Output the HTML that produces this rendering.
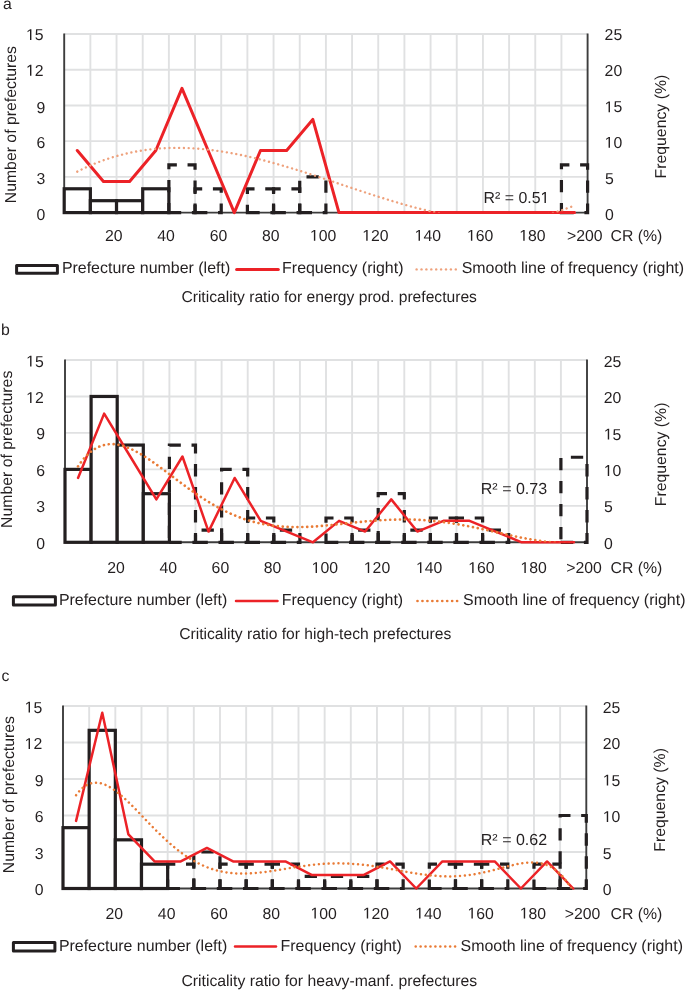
<!DOCTYPE html>
<html><head><meta charset="utf-8"><title>Criticality ratio charts</title>
<style>html,body{margin:0;padding:0;background:#fff}body{width:685px;height:990px;position:relative;overflow:hidden;font-family:'Liberation Sans',sans-serif;text-rendering:geometricPrecision}</style>
</head><body>
<svg width="685" height="990" viewBox="0 0 685 990" style="position:absolute;left:0;top:0;will-change:transform"><defs><clipPath id="clipa"><rect x="64.2" y="32.0" width="523.4" height="180.6"/></clipPath><clipPath id="clipb"><rect x="65.0" y="358.0" width="522.0" height="184.29999999999995"/></clipPath><clipPath id="clipc"><rect x="63.0" y="704.0" width="523.3" height="184.5"/></clipPath></defs><line x1="64.2" y1="176.88" x2="587.6" y2="176.88" stroke="#e0e1e2" stroke-width="1.9"/><line x1="64.2" y1="141.16" x2="587.6" y2="141.16" stroke="#e0e1e2" stroke-width="1.9"/><line x1="64.2" y1="105.44" x2="587.6" y2="105.44" stroke="#e0e1e2" stroke-width="1.9"/><line x1="64.2" y1="69.72" x2="587.6" y2="69.72" stroke="#e0e1e2" stroke-width="1.9"/><line x1="64.2" y1="34" x2="587.6" y2="34" stroke="#e0e1e2" stroke-width="1.9"/><line x1="90.37" y1="34" x2="90.37" y2="212.6" stroke="#e0e1e2" stroke-width="1.9"/><line x1="116.54" y1="34" x2="116.54" y2="212.6" stroke="#e0e1e2" stroke-width="1.9"/><line x1="142.71" y1="34" x2="142.71" y2="212.6" stroke="#e0e1e2" stroke-width="1.9"/><line x1="168.88" y1="34" x2="168.88" y2="212.6" stroke="#e0e1e2" stroke-width="1.9"/><line x1="195.05" y1="34" x2="195.05" y2="212.6" stroke="#e0e1e2" stroke-width="1.9"/><line x1="221.22" y1="34" x2="221.22" y2="212.6" stroke="#e0e1e2" stroke-width="1.9"/><line x1="247.39" y1="34" x2="247.39" y2="212.6" stroke="#e0e1e2" stroke-width="1.9"/><line x1="273.56" y1="34" x2="273.56" y2="212.6" stroke="#e0e1e2" stroke-width="1.9"/><line x1="299.73" y1="34" x2="299.73" y2="212.6" stroke="#e0e1e2" stroke-width="1.9"/><line x1="325.9" y1="34" x2="325.9" y2="212.6" stroke="#e0e1e2" stroke-width="1.9"/><line x1="352.07" y1="34" x2="352.07" y2="212.6" stroke="#e0e1e2" stroke-width="1.9"/><line x1="378.24" y1="34" x2="378.24" y2="212.6" stroke="#e0e1e2" stroke-width="1.9"/><line x1="404.41" y1="34" x2="404.41" y2="212.6" stroke="#e0e1e2" stroke-width="1.9"/><line x1="430.58" y1="34" x2="430.58" y2="212.6" stroke="#e0e1e2" stroke-width="1.9"/><line x1="456.75" y1="34" x2="456.75" y2="212.6" stroke="#e0e1e2" stroke-width="1.9"/><line x1="482.92" y1="34" x2="482.92" y2="212.6" stroke="#e0e1e2" stroke-width="1.9"/><line x1="509.09" y1="34" x2="509.09" y2="212.6" stroke="#e0e1e2" stroke-width="1.9"/><line x1="535.26" y1="34" x2="535.26" y2="212.6" stroke="#e0e1e2" stroke-width="1.9"/><line x1="561.43" y1="34" x2="561.43" y2="212.6" stroke="#e0e1e2" stroke-width="1.9"/><line x1="64.2" y1="33.5" x2="64.2" y2="212.6" stroke="#3d3d3d" stroke-width="1.9"/><line x1="587.6" y1="33.5" x2="587.6" y2="212.6" stroke="#3d3d3d" stroke-width="1.9"/><line x1="64.2" y1="212.6" x2="587.6" y2="212.6" stroke="#3d3d3d" stroke-width="1.9"/><rect x="64.2" y="188.79" width="26.17" height="23.81" fill="#fff" stroke="#231f20" stroke-width="3.2"/><rect x="90.37" y="200.69" width="26.17" height="11.91" fill="#fff" stroke="#231f20" stroke-width="3.2"/><rect x="116.54" y="200.69" width="26.17" height="11.91" fill="#fff" stroke="#231f20" stroke-width="3.2"/><rect x="142.71" y="188.79" width="26.17" height="23.81" fill="#fff" stroke="#231f20" stroke-width="3.2"/><path d="M168.88 212.6H195.05V164.97H168.88Z" fill="none" stroke="#231f20" stroke-width="3.2" stroke-dasharray="12.3 10.7" stroke-dashoffset="0"/><path d="M195.05 212.6H221.22V188.79H195.05Z" fill="none" stroke="#231f20" stroke-width="3.2" stroke-dasharray="12.3 10.7" stroke-dashoffset="0"/><path d="M247.39 212.6H273.56V188.79H247.39Z" fill="none" stroke="#231f20" stroke-width="3.2" stroke-dasharray="12.3 10.7" stroke-dashoffset="0"/><path d="M273.56 212.6H299.73V188.79H273.56Z" fill="none" stroke="#231f20" stroke-width="3.2" stroke-dasharray="12.3 10.7" stroke-dashoffset="0"/><path d="M299.73 212.6H325.9V176.88H299.73Z" fill="none" stroke="#231f20" stroke-width="3.2" stroke-dasharray="12.3 10.7" stroke-dashoffset="0"/><path d="M561.43 212.6H587.6V164.97H561.43Z" fill="none" stroke="#231f20" stroke-width="3.2" stroke-dasharray="12.3 10.7" stroke-dashoffset="0"/><polyline points="77.28,150.48 103.45,181.54 129.62,181.54 155.8,150.48 181.96,88.36 208.13,150.48 234.31,212.6 260.47,150.48 286.64,150.48 312.81,119.42 338.98,212.6 365.15,212.6 391.32,212.6 417.49,212.6 443.66,212.6 469.83,212.6 496,212.6 522.17,212.6 548.35,212.6 574.51,212.6" fill="none" stroke="#ec2227" stroke-width="3.0" stroke-linejoin="round" stroke-linecap="round"/><g clip-path="url(#clipa)"><polyline points="77.28,171.63 78.53,171 79.78,170.37 81.02,169.76 82.27,169.15 83.52,168.56 84.76,167.97 86.01,167.4 87.25,166.83 88.5,166.27 89.75,165.72 90.99,165.19 92.24,164.66 93.49,164.13 94.73,163.62 95.98,163.12 97.22,162.63 98.47,162.14 99.72,161.67 100.96,161.2 102.21,160.74 103.45,160.29 104.7,159.85 105.95,159.42 107.19,159 108.44,158.58 109.69,158.18 110.93,157.78 112.18,157.39 113.42,157.01 114.67,156.64 115.92,156.28 117.16,155.92 118.41,155.57 119.66,155.24 120.9,154.91 122.15,154.58 123.39,154.27 124.64,153.96 125.89,153.67 127.13,153.38 128.38,153.1 129.62,152.82 130.87,152.56 132.12,152.3 133.36,152.05 134.61,151.8 135.86,151.57 137.1,151.34 138.35,151.12 139.59,150.91 140.84,150.71 142.09,150.51 143.33,150.32 144.58,150.14 145.83,149.96 147.07,149.8 148.32,149.64 149.56,149.48 150.81,149.34 152.06,149.2 153.3,149.07 154.55,148.94 155.8,148.83 157.04,148.72 158.29,148.61 159.53,148.52 160.78,148.43 162.03,148.35 163.27,148.27 164.52,148.2 165.76,148.14 167.01,148.08 168.26,148.03 169.5,147.99 170.75,147.95 172,147.92 173.24,147.9 174.49,147.88 175.73,147.87 176.98,147.87 178.23,147.87 179.47,147.88 180.72,147.89 181.96,147.91 183.21,147.94 184.46,147.97 185.7,148.01 186.95,148.06 188.2,148.11 189.44,148.16 190.69,148.22 191.93,148.29 193.18,148.36 194.43,148.44 195.67,148.53 196.92,148.62 198.17,148.71 199.41,148.82 200.66,148.92 201.9,149.03 203.15,149.15 204.4,149.27 205.64,149.4 206.89,149.54 208.13,149.67 209.38,149.82 210.63,149.97 211.87,150.12 213.12,150.28 214.37,150.44 215.61,150.61 216.86,150.78 218.1,150.96 219.35,151.14 220.6,151.33 221.84,151.52 223.09,151.72 224.34,151.92 225.58,152.13 226.83,152.34 228.07,152.55 229.32,152.77 230.57,152.99 231.81,153.22 233.06,153.45 234.31,153.69 235.55,153.93 236.8,154.18 238.04,154.42 239.29,154.68 240.54,154.93 241.78,155.19 243.03,155.46 244.27,155.73 245.52,156 246.77,156.27 248.01,156.55 249.26,156.84 250.51,157.12 251.75,157.41 253,157.71 254.24,158 255.49,158.3 256.74,158.61 257.98,158.91 259.23,159.23 260.47,159.54 261.72,159.86 262.97,160.18 264.21,160.5 265.46,160.82 266.71,161.15 267.95,161.49 269.2,161.82 270.44,162.16 271.69,162.5 272.94,162.84 274.18,163.19 275.43,163.54 276.68,163.89 277.92,164.24 279.17,164.6 280.41,164.96 281.66,165.32 282.91,165.68 284.15,166.05 285.4,166.41 286.64,166.79 287.89,167.16 289.14,167.53 290.38,167.91 291.63,168.29 292.88,168.67 294.12,169.05 295.37,169.44 296.61,169.82 297.86,170.21 299.11,170.6 300.35,170.99 301.6,171.38 302.85,171.78 304.09,172.17 305.34,172.57 306.58,172.97 307.83,173.37 309.08,173.77 310.32,174.18 311.57,174.58 312.81,174.99 314.06,175.39 315.31,175.8 316.55,176.21 317.8,176.62 319.05,177.03 320.29,177.44 321.54,177.85 322.78,178.27 324.03,178.68 325.28,179.1 326.52,179.51 327.77,179.93 329.02,180.34 330.26,180.76 331.51,181.18 332.75,181.6 334,182.01 335.25,182.43 336.49,182.85 337.74,183.27 338.98,183.69 340.23,184.11 341.48,184.53 342.72,184.95 343.97,185.37 345.22,185.78 346.46,186.2 347.71,186.62 348.95,187.04 350.2,187.46 351.45,187.88 352.69,188.29 353.94,188.71 355.19,189.13 356.43,189.54 357.68,189.96 358.92,190.37 360.17,190.79 361.42,191.2 362.66,191.61 363.91,192.02 365.15,192.43 366.4,192.84 367.65,193.25 368.89,193.66 370.14,194.06 371.39,194.47 372.63,194.87 373.88,195.28 375.12,195.68 376.37,196.08 377.62,196.47 378.86,196.87 380.11,197.27 381.36,197.66 382.6,198.05 383.85,198.44 385.09,198.83 386.34,199.22 387.59,199.6 388.83,199.99 390.08,200.37 391.32,200.75 392.57,201.12 393.82,201.5 395.06,201.87 396.31,202.24 397.56,202.61 398.8,202.98 400.05,203.34 401.29,203.7 402.54,204.06 403.79,204.42 405.03,204.77 406.28,205.12 407.53,205.47 408.77,205.81 410.02,206.16 411.26,206.5 412.51,206.83 413.76,207.17 415,207.5 416.25,207.83 417.49,208.15 418.74,208.47 419.99,208.79 421.23,209.11 422.48,209.42 423.73,209.73 424.97,210.03 426.22,210.33 427.46,210.63 428.71,210.92 429.96,211.21 431.2,211.5 432.45,211.78 433.7,212.06 434.94,212.34 436.19,212.61 437.43,212.88 438.68,213.14 439.93,213.4 441.17,213.66 442.42,213.91 443.66,214.15 444.91,214.4 446.16,214.64 447.4,214.87 448.65,215.1 449.9,215.32 451.14,215.54 452.39,215.76 453.63,215.97 454.88,216.18 456.13,216.38 457.37,216.58 458.62,216.77 459.87,216.95 461.11,217.14 462.36,217.31 463.6,217.48 464.85,217.65 466.1,217.81 467.34,217.97 468.59,218.12 469.83,218.26 471.08,218.4 472.33,218.54 473.57,218.67 474.82,218.79 476.07,218.91 477.31,219.02 478.56,219.12 479.8,219.22 481.05,219.32 482.3,219.41 483.54,219.49 484.79,219.56 486.04,219.63 487.28,219.7 488.53,219.75 489.77,219.81 491.02,219.85 492.27,219.89 493.51,219.92 494.76,219.95 496,219.97 497.25,219.98 498.5,219.98 499.74,219.98 500.99,219.98 502.24,219.96 503.48,219.94 504.73,219.91 505.97,219.88 507.22,219.83 508.47,219.78 509.71,219.73 510.96,219.66 512.21,219.59 513.45,219.51 514.7,219.43 515.94,219.33 517.19,219.23 518.44,219.12 519.68,219.01 520.93,218.88 522.17,218.75 523.42,218.61 524.67,218.46 525.91,218.31 527.16,218.14 528.41,217.97 529.65,217.79 530.9,217.6 532.14,217.41 533.39,217.2 534.64,216.99 535.88,216.77 537.13,216.54 538.38,216.3 539.62,216.06 540.87,215.8 542.11,215.54 543.36,215.27 544.61,214.98 545.85,214.69 547.1,214.4 548.35,214.09 549.59,213.77 550.84,213.44 552.08,213.11 553.33,212.76 554.58,212.41 555.82,212.05 557.07,211.68 558.31,211.29 559.56,210.9 560.81,210.5 562.05,210.09 563.3,209.67 564.55,209.24 565.79,208.8 567.04,208.35 568.28,207.89 569.53,207.42 570.78,206.94 572.02,206.45 573.27,205.95 574.51,205.44" fill="none" stroke="#eea17c" stroke-width="2.4" stroke-linecap="round" stroke-dasharray="0.01 4.79"/></g><g fill="#231f20" style="font-family:'Liberation Sans',sans-serif;text-rendering:geometricPrecision;font-size:15.8px"><text x="3.00" y="8.60" font-size="15.8">a</text><text transform="translate(16.0,124.65) rotate(-90)" text-anchor="middle">Number of prefectures</text><text x="36.61" y="219.50" font-size="15.8">0</text><text x="36.61" y="183.88" font-size="15.8">3</text><text x="36.61" y="147.66" font-size="15.8">6</text><text x="36.61" y="112.64" font-size="15.8">9</text><text x="26.03" y="75.72" font-size="15.8"> 2</text><path transform="matrix(0.007715 0 0 -0.007715 26.03 75.72)" d="M515 0L515 1237L197 1010L197 1180L530 1409L696 1409L696 0Z"/><text x="26.03" y="40.00" font-size="15.8"> 5</text><path transform="matrix(0.007715 0 0 -0.007715 26.03 40.00)" d="M515 0L515 1237L197 1010L197 1180L530 1409L696 1409L696 0Z"/><text x="605.10" y="219.50" font-size="15.8">0</text><text x="605.10" y="183.88" font-size="15.8">5</text><text x="604.60" y="147.76" font-size="15.8"> 0</text><path transform="matrix(0.007715 0 0 -0.007715 604.60 147.76)" d="M515 0L515 1237L197 1010L197 1180L530 1409L696 1409L696 0Z"/><text x="604.60" y="112.34" font-size="15.8"> 5</text><path transform="matrix(0.007715 0 0 -0.007715 604.60 112.34)" d="M515 0L515 1237L197 1010L197 1180L530 1409L696 1409L696 0Z"/><text x="604.60" y="76.12" font-size="15.8">20</text><text x="604.60" y="40.00" font-size="15.8">25</text><text transform="translate(666.0,126.6) rotate(-90)" text-anchor="middle">Frequency (%)</text><text x="104.95" y="240.80" font-size="15.8">20</text><text x="157.29" y="240.80" font-size="15.8">40</text><text x="209.63" y="240.80" font-size="15.8">60</text><text x="261.97" y="240.80" font-size="15.8">80</text><text x="309.92" y="240.80" font-size="15.8"> 00</text><path transform="matrix(0.007715 0 0 -0.007715 309.92 240.80)" d="M515 0L515 1237L197 1010L197 1180L530 1409L696 1409L696 0Z"/><text x="362.26" y="240.80" font-size="15.8"> 20</text><path transform="matrix(0.007715 0 0 -0.007715 362.26 240.80)" d="M515 0L515 1237L197 1010L197 1180L530 1409L696 1409L696 0Z"/><text x="414.60" y="240.80" font-size="15.8"> 40</text><path transform="matrix(0.007715 0 0 -0.007715 414.60 240.80)" d="M515 0L515 1237L197 1010L197 1180L530 1409L696 1409L696 0Z"/><text x="466.94" y="240.80" font-size="15.8"> 60</text><path transform="matrix(0.007715 0 0 -0.007715 466.94 240.80)" d="M515 0L515 1237L197 1010L197 1180L530 1409L696 1409L696 0Z"/><text x="519.28" y="240.80" font-size="15.8"> 80</text><path transform="matrix(0.007715 0 0 -0.007715 519.28 240.80)" d="M515 0L515 1237L197 1010L197 1180L530 1409L696 1409L696 0Z"/><text x="567.00" y="240.80" font-size="15.8">&gt;200</text><text x="610.50" y="240.80" font-size="15.8">CR (%)</text><text x="483.50" y="203.00" font-size="15.9">R² = 0.5 </text><path transform="matrix(0.007764 0 0 -0.007764 540.50 203.00)" d="M515 0L515 1237L197 1010L197 1180L530 1409L696 1409L696 0Z"/><rect x="16.6" y="265.5" width="40.8" height="7.7" fill="#fff" stroke="#231f20" stroke-width="3" stroke-linejoin="round"/><text x="61.90" y="273.40" font-size="15.95">Prefecture number (left)</text><line x1="236.6" y1="269.4" x2="278.3" y2="269.4" stroke="#ec2227" stroke-width="3.0" stroke-linecap="round"/><text x="282.10" y="273.40" font-size="15.95">Frequency (right)</text><circle cx="416.6" cy="269.4" r="1.20" fill="#eea17c"/><circle cx="421.5" cy="269.4" r="1.20" fill="#eea17c"/><circle cx="426.4" cy="269.4" r="1.20" fill="#eea17c"/><circle cx="431.3" cy="269.4" r="1.20" fill="#eea17c"/><circle cx="436.2" cy="269.4" r="1.20" fill="#eea17c"/><circle cx="441.1" cy="269.4" r="1.20" fill="#eea17c"/><circle cx="446" cy="269.4" r="1.20" fill="#eea17c"/><circle cx="450.9" cy="269.4" r="1.20" fill="#eea17c"/><circle cx="455.8" cy="269.4" r="1.20" fill="#eea17c"/><text x="461.70" y="273.40" font-size="15.95">Smooth line of frequency (right)</text><text x="181.40" y="302.40" font-size="15.65">Criticality ratio for energy prod. prefectures</text></g><line x1="65" y1="505.84" x2="587" y2="505.84" stroke="#e0e1e2" stroke-width="1.9"/><line x1="65" y1="469.38" x2="587" y2="469.38" stroke="#e0e1e2" stroke-width="1.9"/><line x1="65" y1="432.92" x2="587" y2="432.92" stroke="#e0e1e2" stroke-width="1.9"/><line x1="65" y1="396.46" x2="587" y2="396.46" stroke="#e0e1e2" stroke-width="1.9"/><line x1="65" y1="360" x2="587" y2="360" stroke="#e0e1e2" stroke-width="1.9"/><line x1="91.1" y1="360" x2="91.1" y2="542.3" stroke="#e0e1e2" stroke-width="1.9"/><line x1="117.2" y1="360" x2="117.2" y2="542.3" stroke="#e0e1e2" stroke-width="1.9"/><line x1="143.3" y1="360" x2="143.3" y2="542.3" stroke="#e0e1e2" stroke-width="1.9"/><line x1="169.4" y1="360" x2="169.4" y2="542.3" stroke="#e0e1e2" stroke-width="1.9"/><line x1="195.5" y1="360" x2="195.5" y2="542.3" stroke="#e0e1e2" stroke-width="1.9"/><line x1="221.6" y1="360" x2="221.6" y2="542.3" stroke="#e0e1e2" stroke-width="1.9"/><line x1="247.7" y1="360" x2="247.7" y2="542.3" stroke="#e0e1e2" stroke-width="1.9"/><line x1="273.8" y1="360" x2="273.8" y2="542.3" stroke="#e0e1e2" stroke-width="1.9"/><line x1="299.9" y1="360" x2="299.9" y2="542.3" stroke="#e0e1e2" stroke-width="1.9"/><line x1="326" y1="360" x2="326" y2="542.3" stroke="#e0e1e2" stroke-width="1.9"/><line x1="352.1" y1="360" x2="352.1" y2="542.3" stroke="#e0e1e2" stroke-width="1.9"/><line x1="378.2" y1="360" x2="378.2" y2="542.3" stroke="#e0e1e2" stroke-width="1.9"/><line x1="404.3" y1="360" x2="404.3" y2="542.3" stroke="#e0e1e2" stroke-width="1.9"/><line x1="430.4" y1="360" x2="430.4" y2="542.3" stroke="#e0e1e2" stroke-width="1.9"/><line x1="456.5" y1="360" x2="456.5" y2="542.3" stroke="#e0e1e2" stroke-width="1.9"/><line x1="482.6" y1="360" x2="482.6" y2="542.3" stroke="#e0e1e2" stroke-width="1.9"/><line x1="508.7" y1="360" x2="508.7" y2="542.3" stroke="#e0e1e2" stroke-width="1.9"/><line x1="534.8" y1="360" x2="534.8" y2="542.3" stroke="#e0e1e2" stroke-width="1.9"/><line x1="560.9" y1="360" x2="560.9" y2="542.3" stroke="#e0e1e2" stroke-width="1.9"/><line x1="65" y1="359.5" x2="65" y2="542.3" stroke="#3d3d3d" stroke-width="1.9"/><line x1="587" y1="359.5" x2="587" y2="542.3" stroke="#3d3d3d" stroke-width="1.9"/><line x1="65" y1="542.3" x2="587" y2="542.3" stroke="#3d3d3d" stroke-width="1.9"/><rect x="65" y="469.38" width="26.1" height="72.92" fill="#fff" stroke="#231f20" stroke-width="3.2"/><rect x="91.1" y="396.46" width="26.1" height="145.84" fill="#fff" stroke="#231f20" stroke-width="3.2"/><rect x="117.2" y="445.07" width="26.1" height="97.23" fill="#fff" stroke="#231f20" stroke-width="3.2"/><rect x="143.3" y="493.69" width="26.1" height="48.61" fill="#fff" stroke="#231f20" stroke-width="3.2"/><path d="M169.4 542.3H195.5V445.07H169.4Z" fill="none" stroke="#231f20" stroke-width="3.2" stroke-dasharray="12.3 10.7" stroke-dashoffset="0"/><path d="M195.5 542.3H221.6V530.15H195.5Z" fill="none" stroke="#231f20" stroke-width="3.2" stroke-dasharray="12.3 10.7" stroke-dashoffset="0"/><path d="M221.6 542.3H247.7V469.38H221.6Z" fill="none" stroke="#231f20" stroke-width="3.2" stroke-dasharray="12.3 10.7" stroke-dashoffset="0"/><path d="M247.7 542.3H273.8V517.99H247.7Z" fill="none" stroke="#231f20" stroke-width="3.2" stroke-dasharray="12.3 10.7" stroke-dashoffset="0"/><path d="M273.8 542.3H299.9V530.15H273.8Z" fill="none" stroke="#231f20" stroke-width="3.2" stroke-dasharray="12.3 10.7" stroke-dashoffset="0"/><path d="M326 542.3H352.1V517.99H326Z" fill="none" stroke="#231f20" stroke-width="3.2" stroke-dasharray="12.3 10.7" stroke-dashoffset="0"/><path d="M352.1 542.3H378.2V530.15H352.1Z" fill="none" stroke="#231f20" stroke-width="3.2" stroke-dasharray="12.3 10.7" stroke-dashoffset="0"/><path d="M378.2 542.3H404.3V493.69H378.2Z" fill="none" stroke="#231f20" stroke-width="3.2" stroke-dasharray="12.3 10.7" stroke-dashoffset="0"/><path d="M404.3 542.3H430.4V530.15H404.3Z" fill="none" stroke="#231f20" stroke-width="3.2" stroke-dasharray="12.3 10.7" stroke-dashoffset="0"/><path d="M430.4 542.3H456.5V517.99H430.4Z" fill="none" stroke="#231f20" stroke-width="3.2" stroke-dasharray="12.3 10.7" stroke-dashoffset="0"/><path d="M456.5 542.3H482.6V517.99H456.5Z" fill="none" stroke="#231f20" stroke-width="3.2" stroke-dasharray="12.3 10.7" stroke-dashoffset="0"/><path d="M482.6 542.3H508.7V530.15H482.6Z" fill="none" stroke="#231f20" stroke-width="3.2" stroke-dasharray="12.3 10.7" stroke-dashoffset="0"/><path d="M560.9 542.3H587V457.23H560.9Z" fill="none" stroke="#231f20" stroke-width="3.2" stroke-dasharray="12.3 10.7" stroke-dashoffset="0"/><polyline points="78.05,477.96 104.15,413.62 130.25,456.51 156.35,499.41 182.45,456.51 208.55,531.58 234.65,477.96 260.75,520.85 286.85,531.58 312.95,542.3 339.05,520.85 365.15,531.58 391.25,499.41 417.35,531.58 443.45,520.85 469.55,520.85 495.65,531.58 521.75,542.3 547.85,542.3 573.95,542.3" fill="none" stroke="#ec2227" stroke-width="2.5" stroke-linejoin="round" stroke-linecap="round"/><g clip-path="url(#clipb)"><polyline points="78.05,466.34 79.29,464.52 80.54,462.79 81.78,461.15 83.02,459.6 84.26,458.14 85.51,456.76 86.75,455.47 87.99,454.26 89.24,453.12 90.48,452.07 91.72,451.08 92.96,450.18 94.21,449.34 95.45,448.57 96.69,447.87 97.94,447.24 99.18,446.67 100.42,446.16 101.66,445.71 102.91,445.32 104.15,444.99 105.39,444.72 106.64,444.5 107.88,444.33 109.12,444.21 110.36,444.14 111.61,444.12 112.85,444.15 114.09,444.22 115.34,444.33 116.58,444.49 117.82,444.69 119.06,444.93 120.31,445.2 121.55,445.51 122.79,445.86 124.04,446.24 125.28,446.66 126.52,447.1 127.76,447.58 129.01,448.08 130.25,448.62 131.49,449.18 132.74,449.77 133.98,450.38 135.22,451.01 136.46,451.67 137.71,452.35 138.95,453.05 140.19,453.77 141.44,454.51 142.68,455.27 143.92,456.04 145.16,456.83 146.41,457.63 147.65,458.45 148.89,459.28 150.14,460.12 151.38,460.98 152.62,461.84 153.86,462.72 155.11,463.61 156.35,464.5 157.59,465.4 158.84,466.31 160.08,467.22 161.32,468.14 162.56,469.06 163.81,469.99 165.05,470.93 166.29,471.86 167.54,472.8 168.78,473.74 170.02,474.68 171.26,475.62 172.51,476.56 173.75,477.5 174.99,478.44 176.24,479.38 177.48,480.31 178.72,481.25 179.96,482.18 181.21,483.11 182.45,484.03 183.69,484.95 184.94,485.86 186.18,486.77 187.42,487.68 188.66,488.58 189.91,489.47 191.15,490.35 192.39,491.23 193.64,492.1 194.88,492.97 196.12,493.82 197.36,494.67 198.61,495.51 199.85,496.34 201.09,497.17 202.34,497.98 203.58,498.78 204.82,499.58 206.06,500.36 207.31,501.14 208.55,501.9 209.79,502.66 211.04,503.4 212.28,504.13 213.52,504.86 214.76,505.57 216.01,506.27 217.25,506.96 218.49,507.63 219.74,508.3 220.98,508.95 222.22,509.59 223.46,510.23 224.71,510.84 225.95,511.45 227.19,512.05 228.44,512.63 229.68,513.2 230.92,513.76 232.16,514.3 233.41,514.84 234.65,515.36 235.89,515.87 237.14,516.37 238.38,516.85 239.62,517.33 240.86,517.79 242.11,518.24 243.35,518.67 244.59,519.1 245.84,519.51 247.08,519.91 248.32,520.3 249.56,520.67 250.81,521.04 252.05,521.39 253.29,521.73 254.54,522.06 255.78,522.38 257.02,522.68 258.26,522.98 259.51,523.26 260.75,523.53 261.99,523.79 263.24,524.04 264.48,524.28 265.72,524.51 266.96,524.73 268.21,524.94 269.45,525.13 270.69,525.32 271.94,525.49 273.18,525.66 274.42,525.81 275.66,525.96 276.91,526.1 278.15,526.22 279.39,526.34 280.64,526.45 281.88,526.55 283.12,526.64 284.36,526.72 285.61,526.79 286.85,526.86 288.09,526.91 289.34,526.96 290.58,527 291.82,527.03 293.06,527.06 294.31,527.07 295.55,527.08 296.79,527.09 298.04,527.08 299.28,527.07 300.52,527.05 301.76,527.03 303.01,527 304.25,526.96 305.49,526.92 306.74,526.87 307.98,526.82 309.22,526.76 310.46,526.7 311.71,526.63 312.95,526.56 314.19,526.48 315.44,526.4 316.68,526.31 317.92,526.22 319.16,526.12 320.41,526.03 321.65,525.92 322.89,525.82 324.14,525.71 325.38,525.6 326.62,525.49 327.86,525.37 329.11,525.25 330.35,525.13 331.59,525.01 332.84,524.88 334.08,524.75 335.32,524.62 336.56,524.49 337.81,524.36 339.05,524.23 340.29,524.1 341.54,523.96 342.78,523.83 344.02,523.7 345.26,523.56 346.51,523.43 347.75,523.29 348.99,523.16 350.24,523.02 351.48,522.89 352.72,522.75 353.96,522.62 355.21,522.49 356.45,522.36 357.69,522.23 358.94,522.11 360.18,521.98 361.42,521.86 362.66,521.73 363.91,521.61 365.15,521.5 366.39,521.38 367.64,521.27 368.88,521.16 370.12,521.05 371.36,520.94 372.61,520.84 373.85,520.74 375.09,520.64 376.34,520.55 377.58,520.46 378.82,520.37 380.06,520.29 381.31,520.21 382.55,520.14 383.79,520.06 385.04,520 386.28,519.93 387.52,519.87 388.76,519.81 390.01,519.76 391.25,519.72 392.49,519.67 393.74,519.63 394.98,519.6 396.22,519.57 397.46,519.54 398.71,519.52 399.95,519.51 401.19,519.5 402.44,519.49 403.68,519.49 404.92,519.49 406.16,519.5 407.41,519.52 408.65,519.53 409.89,519.56 411.14,519.59 412.38,519.62 413.62,519.66 414.86,519.7 416.11,519.75 417.35,519.81 418.59,519.87 419.84,519.93 421.08,520 422.32,520.08 423.56,520.16 424.81,520.25 426.05,520.34 427.29,520.43 428.54,520.53 429.78,520.64 431.02,520.75 432.26,520.87 433.51,520.99 434.75,521.12 435.99,521.25 437.24,521.38 438.48,521.53 439.72,521.67 440.96,521.82 442.21,521.98 443.45,522.14 444.69,522.31 445.94,522.48 447.18,522.65 448.42,522.83 449.66,523.01 450.91,523.2 452.15,523.39 453.39,523.59 454.64,523.79 455.88,523.99 457.12,524.2 458.36,524.41 459.61,524.63 460.85,524.85 462.09,525.07 463.34,525.3 464.58,525.53 465.82,525.77 467.06,526 468.31,526.24 469.55,526.49 470.79,526.73 472.04,526.98 473.28,527.23 474.52,527.49 475.76,527.74 477.01,528 478.25,528.26 479.49,528.52 480.74,528.79 481.98,529.06 483.22,529.32 484.46,529.59 485.71,529.87 486.95,530.14 488.19,530.41 489.44,530.69 490.68,530.96 491.92,531.24 493.16,531.52 494.41,531.79 495.65,532.07 496.89,532.35 498.14,532.63 499.38,532.91 500.62,533.18 501.86,533.46 503.11,533.74 504.35,534.01 505.59,534.29 506.84,534.56 508.08,534.83 509.32,535.1 510.56,535.37 511.81,535.64 513.05,535.91 514.29,536.17 515.54,536.43 516.78,536.69 518.02,536.95 519.26,537.21 520.51,537.46 521.75,537.71 522.99,537.95 524.24,538.2 525.48,538.43 526.72,538.67 527.96,538.9 529.21,539.13 530.45,539.35 531.69,539.57 532.94,539.79 534.18,540 535.42,540.21 536.66,540.41 537.91,540.6 539.15,540.79 540.39,540.98 541.64,541.16 542.88,541.34 544.12,541.51 545.36,541.67 546.61,541.83 547.85,541.98 549.09,542.12 550.34,542.26 551.58,542.4 552.82,542.52 554.06,542.64 555.31,542.75 556.55,542.86 557.79,542.96 559.04,543.05 560.28,543.13 561.52,543.21 562.76,543.28 564.01,543.34 565.25,543.39 566.49,543.43 567.74,543.47 568.98,543.5 570.22,543.52 571.46,543.54 572.71,543.54 573.95,543.54" fill="none" stroke="#e97b36" stroke-width="2.7" stroke-linecap="round" stroke-dasharray="0.01 4.890000000000001"/></g><g fill="#231f20" style="font-family:'Liberation Sans',sans-serif;text-rendering:geometricPrecision;font-size:15.8px"><text x="0.90" y="334.60" font-size="15.8">b</text><text transform="translate(12.0,449.3) rotate(-90)" text-anchor="middle">Number of prefectures</text><text x="36.21" y="548.90" font-size="15.8">0</text><text x="36.21" y="512.44" font-size="15.8">3</text><text x="36.21" y="475.98" font-size="15.8">6</text><text x="36.21" y="438.92" font-size="15.8">9</text><text x="26.13" y="403.06" font-size="15.8"> 2</text><path transform="matrix(0.007715 0 0 -0.007715 26.13 403.06)" d="M515 0L515 1237L197 1010L197 1180L530 1409L696 1409L696 0Z"/><text x="26.13" y="366.60" font-size="15.8"> 5</text><path transform="matrix(0.007715 0 0 -0.007715 26.13 366.60)" d="M515 0L515 1237L197 1010L197 1180L530 1409L696 1409L696 0Z"/><text x="604.10" y="548.90" font-size="15.8">0</text><text x="604.10" y="512.44" font-size="15.8">5</text><text x="603.80" y="475.98" font-size="15.8"> 0</text><path transform="matrix(0.007715 0 0 -0.007715 603.80 475.98)" d="M515 0L515 1237L197 1010L197 1180L530 1409L696 1409L696 0Z"/><text x="603.80" y="439.52" font-size="15.8"> 5</text><path transform="matrix(0.007715 0 0 -0.007715 603.80 439.52)" d="M515 0L515 1237L197 1010L197 1180L530 1409L696 1409L696 0Z"/><text x="603.80" y="403.06" font-size="15.8">20</text><text x="603.80" y="366.60" font-size="15.8">25</text><text transform="translate(666.4,454.4) rotate(-90)" text-anchor="middle">Frequency (%)</text><text x="107.21" y="573.10" font-size="15.8">20</text><text x="159.41" y="573.10" font-size="15.8">40</text><text x="211.61" y="573.10" font-size="15.8">60</text><text x="263.81" y="573.10" font-size="15.8">80</text><text x="311.62" y="573.10" font-size="15.8"> 00</text><path transform="matrix(0.007715 0 0 -0.007715 311.62 573.10)" d="M515 0L515 1237L197 1010L197 1180L530 1409L696 1409L696 0Z"/><text x="363.82" y="573.10" font-size="15.8"> 20</text><path transform="matrix(0.007715 0 0 -0.007715 363.82 573.10)" d="M515 0L515 1237L197 1010L197 1180L530 1409L696 1409L696 0Z"/><text x="416.02" y="573.10" font-size="15.8"> 40</text><path transform="matrix(0.007715 0 0 -0.007715 416.02 573.10)" d="M515 0L515 1237L197 1010L197 1180L530 1409L696 1409L696 0Z"/><text x="468.22" y="573.10" font-size="15.8"> 60</text><path transform="matrix(0.007715 0 0 -0.007715 468.22 573.10)" d="M515 0L515 1237L197 1010L197 1180L530 1409L696 1409L696 0Z"/><text x="520.42" y="573.10" font-size="15.8"> 80</text><path transform="matrix(0.007715 0 0 -0.007715 520.42 573.10)" d="M515 0L515 1237L197 1010L197 1180L530 1409L696 1409L696 0Z"/><text x="566.20" y="573.10" font-size="15.8">&gt;200</text><text x="610.50" y="573.10" font-size="15.8">CR (%)</text><text x="480.80" y="494.30" font-size="16.0">R² = 0.73</text><rect x="13.4" y="596.7" width="42" height="8.2" fill="#fff" stroke="#231f20" stroke-width="3" stroke-linejoin="round"/><text x="58.90" y="604.60" font-size="15.95">Prefecture number (left)</text><line x1="236.0" y1="601.0" x2="277.5" y2="601.0" stroke="#ec2227" stroke-width="2.5" stroke-linecap="round"/><text x="281.80" y="604.60" font-size="15.95">Frequency (right)</text><circle cx="417.5" cy="601.0" r="1.35" fill="#e97b36"/><circle cx="422.45" cy="601.0" r="1.35" fill="#e97b36"/><circle cx="427.4" cy="601.0" r="1.35" fill="#e97b36"/><circle cx="432.35" cy="601.0" r="1.35" fill="#e97b36"/><circle cx="437.3" cy="601.0" r="1.35" fill="#e97b36"/><circle cx="442.25" cy="601.0" r="1.35" fill="#e97b36"/><circle cx="447.2" cy="601.0" r="1.35" fill="#e97b36"/><circle cx="452.15" cy="601.0" r="1.35" fill="#e97b36"/><circle cx="457.1" cy="601.0" r="1.35" fill="#e97b36"/><text x="463.10" y="604.60" font-size="15.95">Smooth line of frequency (right)</text><text x="179.20" y="638.70" font-size="15.65">Criticality ratio for high-tech prefectures</text></g><line x1="63" y1="852" x2="586.3" y2="852" stroke="#e0e1e2" stroke-width="1.9"/><line x1="63" y1="815.5" x2="586.3" y2="815.5" stroke="#e0e1e2" stroke-width="1.9"/><line x1="63" y1="779" x2="586.3" y2="779" stroke="#e0e1e2" stroke-width="1.9"/><line x1="63" y1="742.5" x2="586.3" y2="742.5" stroke="#e0e1e2" stroke-width="1.9"/><line x1="63" y1="706" x2="586.3" y2="706" stroke="#e0e1e2" stroke-width="1.9"/><line x1="89.16" y1="706" x2="89.16" y2="888.5" stroke="#e0e1e2" stroke-width="1.9"/><line x1="115.33" y1="706" x2="115.33" y2="888.5" stroke="#e0e1e2" stroke-width="1.9"/><line x1="141.5" y1="706" x2="141.5" y2="888.5" stroke="#e0e1e2" stroke-width="1.9"/><line x1="167.66" y1="706" x2="167.66" y2="888.5" stroke="#e0e1e2" stroke-width="1.9"/><line x1="193.82" y1="706" x2="193.82" y2="888.5" stroke="#e0e1e2" stroke-width="1.9"/><line x1="219.99" y1="706" x2="219.99" y2="888.5" stroke="#e0e1e2" stroke-width="1.9"/><line x1="246.16" y1="706" x2="246.16" y2="888.5" stroke="#e0e1e2" stroke-width="1.9"/><line x1="272.32" y1="706" x2="272.32" y2="888.5" stroke="#e0e1e2" stroke-width="1.9"/><line x1="298.49" y1="706" x2="298.49" y2="888.5" stroke="#e0e1e2" stroke-width="1.9"/><line x1="324.65" y1="706" x2="324.65" y2="888.5" stroke="#e0e1e2" stroke-width="1.9"/><line x1="350.81" y1="706" x2="350.81" y2="888.5" stroke="#e0e1e2" stroke-width="1.9"/><line x1="376.98" y1="706" x2="376.98" y2="888.5" stroke="#e0e1e2" stroke-width="1.9"/><line x1="403.14" y1="706" x2="403.14" y2="888.5" stroke="#e0e1e2" stroke-width="1.9"/><line x1="429.31" y1="706" x2="429.31" y2="888.5" stroke="#e0e1e2" stroke-width="1.9"/><line x1="455.47" y1="706" x2="455.47" y2="888.5" stroke="#e0e1e2" stroke-width="1.9"/><line x1="481.64" y1="706" x2="481.64" y2="888.5" stroke="#e0e1e2" stroke-width="1.9"/><line x1="507.81" y1="706" x2="507.81" y2="888.5" stroke="#e0e1e2" stroke-width="1.9"/><line x1="533.97" y1="706" x2="533.97" y2="888.5" stroke="#e0e1e2" stroke-width="1.9"/><line x1="560.13" y1="706" x2="560.13" y2="888.5" stroke="#e0e1e2" stroke-width="1.9"/><line x1="63" y1="705.5" x2="63" y2="888.5" stroke="#3d3d3d" stroke-width="1.9"/><line x1="586.3" y1="705.5" x2="586.3" y2="888.5" stroke="#3d3d3d" stroke-width="1.9"/><line x1="63" y1="888.5" x2="586.3" y2="888.5" stroke="#3d3d3d" stroke-width="1.9"/><rect x="63" y="827.67" width="26.16" height="60.83" fill="#fff" stroke="#231f20" stroke-width="3.2"/><rect x="89.16" y="730.33" width="26.16" height="158.17" fill="#fff" stroke="#231f20" stroke-width="3.2"/><rect x="115.33" y="839.83" width="26.16" height="48.67" fill="#fff" stroke="#231f20" stroke-width="3.2"/><rect x="141.5" y="864.17" width="26.16" height="24.33" fill="#fff" stroke="#231f20" stroke-width="3.2"/><path d="M167.66 888.5H193.82V864.17H167.66Z" fill="none" stroke="#231f20" stroke-width="3.2" stroke-dasharray="12.3 10.7" stroke-dashoffset="0"/><path d="M193.82 888.5H219.99V852H193.82Z" fill="none" stroke="#231f20" stroke-width="3.2" stroke-dasharray="12.3 10.7" stroke-dashoffset="0"/><path d="M219.99 888.5H246.16V864.17H219.99Z" fill="none" stroke="#231f20" stroke-width="3.2" stroke-dasharray="12.3 10.7" stroke-dashoffset="0"/><path d="M246.16 888.5H272.32V864.17H246.16Z" fill="none" stroke="#231f20" stroke-width="3.2" stroke-dasharray="12.3 10.7" stroke-dashoffset="0"/><path d="M272.32 888.5H298.49V864.17H272.32Z" fill="none" stroke="#231f20" stroke-width="3.2" stroke-dasharray="12.3 10.7" stroke-dashoffset="0"/><path d="M298.49 888.5H324.65V876.33H298.49Z" fill="none" stroke="#231f20" stroke-width="3.2" stroke-dasharray="12.3 10.7" stroke-dashoffset="0"/><path d="M324.65 888.5H350.81V876.33H324.65Z" fill="none" stroke="#231f20" stroke-width="3.2" stroke-dasharray="12.3 10.7" stroke-dashoffset="0"/><path d="M350.81 888.5H376.98V876.33H350.81Z" fill="none" stroke="#231f20" stroke-width="3.2" stroke-dasharray="12.3 10.7" stroke-dashoffset="0"/><path d="M376.98 888.5H403.15V864.17H376.98Z" fill="none" stroke="#231f20" stroke-width="3.2" stroke-dasharray="12.3 10.7" stroke-dashoffset="0"/><path d="M429.31 888.5H455.48V864.17H429.31Z" fill="none" stroke="#231f20" stroke-width="3.2" stroke-dasharray="12.3 10.7" stroke-dashoffset="0"/><path d="M455.47 888.5H481.64V864.17H455.47Z" fill="none" stroke="#231f20" stroke-width="3.2" stroke-dasharray="12.3 10.7" stroke-dashoffset="0"/><path d="M481.64 888.5H507.81V864.17H481.64Z" fill="none" stroke="#231f20" stroke-width="3.2" stroke-dasharray="12.3 10.7" stroke-dashoffset="0"/><path d="M533.97 888.5H560.13V864.17H533.97Z" fill="none" stroke="#231f20" stroke-width="3.2" stroke-dasharray="12.3 10.7" stroke-dashoffset="0"/><path d="M560.13 888.5H586.3V815.5H560.13Z" fill="none" stroke="#231f20" stroke-width="3.2" stroke-dasharray="12.3 10.7" stroke-dashoffset="0"/><polyline points="76.08,820.91 102.25,712.76 128.41,834.43 154.58,861.46 180.74,861.46 206.91,847.94 233.07,861.46 259.24,861.46 285.4,861.46 311.57,874.98 337.73,874.98 363.9,874.98 390.06,861.46 416.23,888.5 442.39,861.46 468.56,861.46 494.72,861.46 520.89,888.5 547.05,861.46 573.22,888.5" fill="none" stroke="#ec2227" stroke-width="2.5" stroke-linejoin="round" stroke-linecap="round"/><g clip-path="url(#clipc)"><polyline points="76.08,795.18 77.33,793.51 78.57,791.97 79.82,790.57 81.07,789.3 82.31,788.16 83.56,787.13 84.8,786.22 86.05,785.43 87.3,784.74 88.54,784.16 89.79,783.68 91.03,783.29 92.28,783.01 93.53,782.81 94.77,782.7 96.02,782.67 97.26,782.73 98.51,782.86 99.76,783.07 101,783.34 102.25,783.69 103.49,784.1 104.74,784.58 105.99,785.11 107.23,785.7 108.48,786.35 109.72,787.04 110.97,787.79 112.22,788.58 113.46,789.42 114.71,790.3 115.95,791.22 117.2,792.17 118.44,793.16 119.69,794.18 120.94,795.24 122.18,796.32 123.43,797.43 124.67,798.56 125.92,799.71 127.17,800.89 128.41,802.09 129.66,803.3 130.9,804.53 132.15,805.77 133.4,807.02 134.64,808.29 135.89,809.56 137.13,810.85 138.38,812.14 139.63,813.43 140.87,814.73 142.12,816.03 143.36,817.33 144.61,818.63 145.86,819.93 147.1,821.23 148.35,822.52 149.59,823.81 150.84,825.1 152.09,826.37 153.33,827.64 154.58,828.91 155.82,830.16 157.07,831.4 158.32,832.63 159.56,833.86 160.81,835.06 162.05,836.26 163.3,837.44 164.55,838.61 165.79,839.76 167.04,840.9 168.28,842.02 169.53,843.13 170.77,844.21 172.02,845.29 173.27,846.34 174.51,847.37 175.76,848.39 177,849.39 178.25,850.37 179.5,851.32 180.74,852.26 181.99,853.18 183.23,854.08 184.48,854.96 185.73,855.82 186.97,856.65 188.22,857.47 189.46,858.26 190.71,859.04 191.96,859.79 193.2,860.52 194.45,861.23 195.69,861.92 196.94,862.59 198.19,863.23 199.43,863.86 200.68,864.46 201.92,865.04 203.17,865.6 204.42,866.14 205.66,866.66 206.91,867.16 208.15,867.64 209.4,868.1 210.65,868.54 211.89,868.95 213.14,869.35 214.38,869.73 215.63,870.09 216.88,870.43 218.12,870.75 219.37,871.05 220.61,871.33 221.86,871.6 223.1,871.84 224.35,872.07 225.6,872.28 226.84,872.48 228.09,872.66 229.33,872.82 230.58,872.96 231.83,873.09 233.07,873.21 234.32,873.3 235.56,873.39 236.81,873.46 238.06,873.51 239.3,873.55 240.55,873.58 241.79,873.6 243.04,873.6 244.29,873.59 245.53,873.57 246.78,873.53 248.02,873.49 249.27,873.43 250.52,873.37 251.76,873.29 253.01,873.21 254.25,873.11 255.5,873.01 256.75,872.89 257.99,872.77 259.24,872.65 260.48,872.51 261.73,872.37 262.98,872.22 264.22,872.06 265.47,871.9 266.71,871.74 267.96,871.56 269.21,871.39 270.45,871.21 271.7,871.02 272.94,870.83 274.19,870.64 275.43,870.45 276.68,870.25 277.93,870.05 279.17,869.85 280.42,869.65 281.66,869.44 282.91,869.24 284.16,869.03 285.4,868.83 286.65,868.62 287.89,868.42 289.14,868.21 290.39,868.01 291.63,867.81 292.88,867.61 294.12,867.41 295.37,867.21 296.62,867.02 297.86,866.83 299.11,866.64 300.35,866.45 301.6,866.27 302.85,866.09 304.09,865.92 305.34,865.75 306.58,865.59 307.83,865.43 309.08,865.27 310.32,865.12 311.57,864.97 312.81,864.83 314.06,864.7 315.31,864.57 316.55,864.45 317.8,864.33 319.04,864.22 320.29,864.12 321.54,864.02 322.78,863.93 324.03,863.84 325.27,863.76 326.52,863.69 327.76,863.63 329.01,863.57 330.26,863.52 331.5,863.48 332.75,863.44 333.99,863.41 335.24,863.39 336.49,863.38 337.73,863.37 338.98,863.37 340.22,863.38 341.47,863.4 342.72,863.42 343.96,863.45 345.21,863.49 346.45,863.53 347.7,863.59 348.95,863.65 350.19,863.71 351.44,863.79 352.68,863.87 353.93,863.95 355.18,864.05 356.42,864.15 357.67,864.26 358.91,864.37 360.16,864.49 361.41,864.62 362.65,864.75 363.9,864.89 365.14,865.04 366.39,865.19 367.64,865.34 368.88,865.51 370.13,865.67 371.37,865.84 372.62,866.02 373.87,866.2 375.11,866.39 376.36,866.58 377.6,866.77 378.85,866.97 380.09,867.17 381.34,867.38 382.59,867.59 383.83,867.8 385.08,868.01 386.32,868.23 387.57,868.45 388.82,868.67 390.06,868.89 391.31,869.12 392.55,869.34 393.8,869.57 395.05,869.8 396.29,870.03 397.54,870.25 398.78,870.48 400.03,870.71 401.28,870.94 402.52,871.16 403.77,871.39 405.01,871.61 406.26,871.83 407.51,872.05 408.75,872.27 410,872.48 411.24,872.7 412.49,872.91 413.74,873.11 414.98,873.31 416.23,873.51 417.47,873.7 418.72,873.89 419.97,874.07 421.21,874.25 422.46,874.43 423.7,874.59 424.95,874.76 426.2,874.91 427.44,875.06 428.69,875.2 429.93,875.34 431.18,875.47 432.42,875.59 433.67,875.7 434.92,875.81 436.16,875.91 437.41,875.99 438.65,876.08 439.9,876.15 441.15,876.21 442.39,876.27 443.64,876.31 444.88,876.35 446.13,876.37 447.38,876.39 448.62,876.4 449.87,876.39 451.11,876.38 452.36,876.36 453.61,876.32 454.85,876.28 456.1,876.22 457.34,876.16 458.59,876.08 459.84,876 461.08,875.9 462.33,875.79 463.57,875.68 464.82,875.55 466.07,875.41 467.31,875.26 468.56,875.1 469.8,874.94 471.05,874.76 472.3,874.57 473.54,874.37 474.79,874.16 476.03,873.94 477.28,873.72 478.53,873.48 479.77,873.24 481.02,872.98 482.26,872.72 483.51,872.45 484.75,872.18 486,871.89 487.25,871.6 488.49,871.31 489.74,871.01 490.98,870.7 492.23,870.39 493.48,870.07 494.72,869.75 495.97,869.43 497.21,869.1 498.46,868.77 499.71,868.45 500.95,868.12 502.2,867.79 503.44,867.46 504.69,867.13 505.94,866.81 507.18,866.49 508.43,866.17 509.67,865.86 510.92,865.55 512.17,865.26 513.41,864.97 514.66,864.69 515.9,864.42 517.15,864.16 518.4,863.91 519.64,863.68 520.89,863.46 522.13,863.26 523.38,863.08 524.63,862.92 525.87,862.78 527.12,862.66 528.36,862.56 529.61,862.49 530.86,862.44 532.1,862.43 533.35,862.44 534.59,862.49 535.84,862.57 537.08,862.69 538.33,862.84 539.58,863.03 540.82,863.27 542.07,863.55 543.31,863.87 544.56,864.24 545.81,864.66 547.05,865.14 548.3,865.66 549.54,866.25 550.79,866.89 552.04,867.6 553.28,868.37 554.53,869.21 555.77,870.12 557.02,871.1 558.27,872.15 559.51,873.28 560.76,874.5 562,875.8 563.25,877.18 564.5,878.66 565.74,880.23 566.99,881.89 568.23,883.66 569.48,885.52 570.73,887.5 571.97,889.58 573.22,891.78" fill="none" stroke="#e97b36" stroke-width="2.5" stroke-linecap="round" stroke-dasharray="0.01 4.890000000000001"/></g><g fill="#231f20" style="font-family:'Liberation Sans',sans-serif;text-rendering:geometricPrecision;font-size:15.8px"><text x="1.60" y="680.90" font-size="15.8">c</text><text transform="translate(14.1,794.65) rotate(-90)" text-anchor="middle">Number of prefectures</text><text x="34.81" y="895.10" font-size="15.8">0</text><text x="34.81" y="858.60" font-size="15.8">3</text><text x="34.81" y="822.10" font-size="15.8">6</text><text x="34.81" y="785.60" font-size="15.8">9</text><text x="24.63" y="749.10" font-size="15.8"> 2</text><path transform="matrix(0.007715 0 0 -0.007715 24.63 749.10)" d="M515 0L515 1237L197 1010L197 1180L530 1409L696 1409L696 0Z"/><text x="24.63" y="712.60" font-size="15.8"> 5</text><path transform="matrix(0.007715 0 0 -0.007715 24.63 712.60)" d="M515 0L515 1237L197 1010L197 1180L530 1409L696 1409L696 0Z"/><text x="602.80" y="895.10" font-size="15.8">0</text><text x="602.80" y="858.60" font-size="15.8">5</text><text x="602.80" y="822.10" font-size="15.8"> 0</text><path transform="matrix(0.007715 0 0 -0.007715 602.80 822.10)" d="M515 0L515 1237L197 1010L197 1180L530 1409L696 1409L696 0Z"/><text x="602.80" y="785.60" font-size="15.8"> 5</text><path transform="matrix(0.007715 0 0 -0.007715 602.80 785.60)" d="M515 0L515 1237L197 1010L197 1180L530 1409L696 1409L696 0Z"/><text x="602.80" y="749.10" font-size="15.8">20</text><text x="602.80" y="712.60" font-size="15.8">25</text><text transform="translate(664.8,799.9) rotate(-90)" text-anchor="middle">Frequency (%)</text><text x="105.54" y="918.60" font-size="15.8">20</text><text x="157.87" y="918.60" font-size="15.8">40</text><text x="210.20" y="918.60" font-size="15.8">60</text><text x="262.53" y="918.60" font-size="15.8">80</text><text x="310.47" y="918.60" font-size="15.8"> 00</text><path transform="matrix(0.007715 0 0 -0.007715 310.47 918.60)" d="M515 0L515 1237L197 1010L197 1180L530 1409L696 1409L696 0Z"/><text x="362.80" y="918.60" font-size="15.8"> 20</text><path transform="matrix(0.007715 0 0 -0.007715 362.80 918.60)" d="M515 0L515 1237L197 1010L197 1180L530 1409L696 1409L696 0Z"/><text x="415.13" y="918.60" font-size="15.8"> 40</text><path transform="matrix(0.007715 0 0 -0.007715 415.13 918.60)" d="M515 0L515 1237L197 1010L197 1180L530 1409L696 1409L696 0Z"/><text x="467.46" y="918.60" font-size="15.8"> 60</text><path transform="matrix(0.007715 0 0 -0.007715 467.46 918.60)" d="M515 0L515 1237L197 1010L197 1180L530 1409L696 1409L696 0Z"/><text x="519.79" y="918.60" font-size="15.8"> 80</text><path transform="matrix(0.007715 0 0 -0.007715 519.79 918.60)" d="M515 0L515 1237L197 1010L197 1180L530 1409L696 1409L696 0Z"/><text x="564.80" y="918.60" font-size="15.8">&gt;200</text><text x="610.50" y="918.60" font-size="15.8">CR (%)</text><text x="480.80" y="844.60" font-size="16.0">R² = 0.62</text><rect x="13.4" y="942.5" width="41.5" height="8.4" fill="#fff" stroke="#231f20" stroke-width="3" stroke-linejoin="round"/><text x="58.90" y="950.70" font-size="15.95">Prefecture number (left)</text><line x1="235.0" y1="946.5" x2="276.0" y2="946.5" stroke="#ec2227" stroke-width="2.5" stroke-linecap="round"/><text x="280.50" y="950.70" font-size="15.95">Frequency (right)</text><circle cx="415.7" cy="946.6" r="1.25" fill="#e97b36"/><circle cx="420.62" cy="946.6" r="1.25" fill="#e97b36"/><circle cx="425.55" cy="946.6" r="1.25" fill="#e97b36"/><circle cx="430.48" cy="946.6" r="1.25" fill="#e97b36"/><circle cx="435.4" cy="946.6" r="1.25" fill="#e97b36"/><circle cx="440.32" cy="946.6" r="1.25" fill="#e97b36"/><circle cx="445.25" cy="946.6" r="1.25" fill="#e97b36"/><circle cx="450.18" cy="946.6" r="1.25" fill="#e97b36"/><circle cx="455.1" cy="946.6" r="1.25" fill="#e97b36"/><text x="460.60" y="950.70" font-size="15.95">Smooth line of frequency (right)</text><text x="181.40" y="985.90" font-size="15.75">Criticality ratio for heavy-manf. prefectures</text></g></svg>
</body></html>
